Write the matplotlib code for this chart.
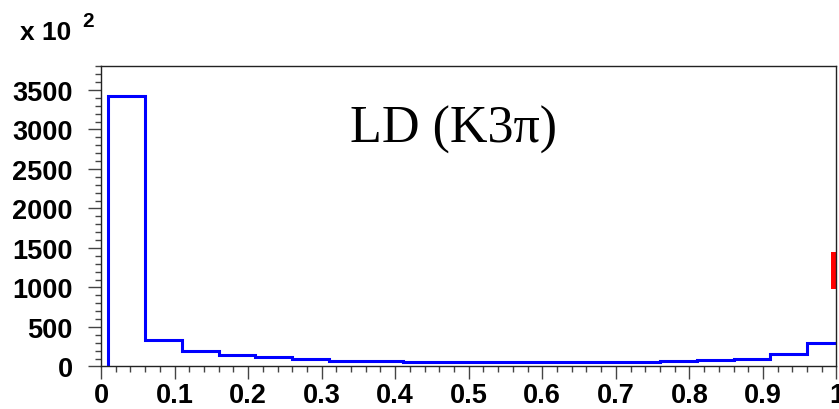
import numpy as np
import matplotlib.pyplot as plt
from matplotlib.patches import Rectangle
from matplotlib.ticker import MultipleLocator

# bin edges (0.05 wide, starting at 0.01) and contents in units of 10^2
edges = [0.01, 0.06, 0.11, 0.16, 0.21, 0.26, 0.31, 0.36, 0.41, 0.46, 0.51,
         0.56, 0.61, 0.66, 0.71, 0.76, 0.81, 0.86, 0.91, 0.96, 1.01]
counts = [3420, 330, 200, 143, 114, 89, 72, 67, 63, 62,
          61, 61, 61, 61, 63, 66, 84, 101, 156, 296]
label = 'LD (K3\u03c0)'

# red marker at the right edge (x range, y range)
marker_x = [0.992, 1.0]
marker_y = [985, 1445]


def main():
    fig = plt.figure(figsize=(8.39, 4.10), dpi=100)
    ax = fig.add_axes([0.1204, 0.1037, 0.8766, 0.7323])

    ax.stairs(counts, edges, color='#0000ff', linewidth=2.2, baseline=0)
    ax.add_patch(Rectangle((marker_x[0], marker_y[0]), marker_x[1] - marker_x[0],
                           marker_y[1] - marker_y[0], color='#ff0000', lw=0))

    ax.set_xlim(0, 1)
    ax.set_ylim(0, 3800)

    ax.xaxis.set_minor_locator(MultipleLocator(0.02))
    ax.yaxis.set_major_locator(MultipleLocator(500))
    ax.yaxis.set_minor_locator(MultipleLocator(100))
    ax.set_xticks(np.arange(0, 1.01, 0.1))
    ax.set_xticklabels(['0', '0.1', '0.2', '0.3', '0.4', '0.5', '0.6', '0.7', '0.8', '0.9', '1'])

    for lab in ax.get_xticklabels() + ax.get_yticklabels():
        lab.set_fontfamily('Liberation Sans')
        lab.set_fontweight('bold')
        lab.set_fontsize(19.5)

    ax.tick_params(axis='both', which='major', direction='out', length=9.5,
                   width=1, color='#444444')
    ax.tick_params(axis='both', which='minor', direction='out', length=4.3,
                   width=1, color='#444444')
    ax.tick_params(axis='x', which='major', pad=2)
    ax.tick_params(axis='y', which='major', pad=11)
    ax.tick_params(top=False, right=False, which='both')

    for sp in ax.spines.values():
        sp.set_linewidth(1)
        sp.set_color('#222222')

    ax.text(0.479, 0.79, label, transform=ax.transAxes, ha='center', va='center',
            family='Liberation Serif', fontsize=37.5)

    fig.text(20 / 839, 1 - 40 / 410, 'x 10', family='Liberation Sans',
             weight='bold', fontsize=19, ha='left', va='baseline')
    fig.text(82 / 839, 1 - 27 / 410, '2', family='Liberation Sans',
             weight='bold', fontsize=15, ha='left', va='baseline')

    fig.savefig('out.png', dpi=100)


if __name__ == '__main__':
    main()
